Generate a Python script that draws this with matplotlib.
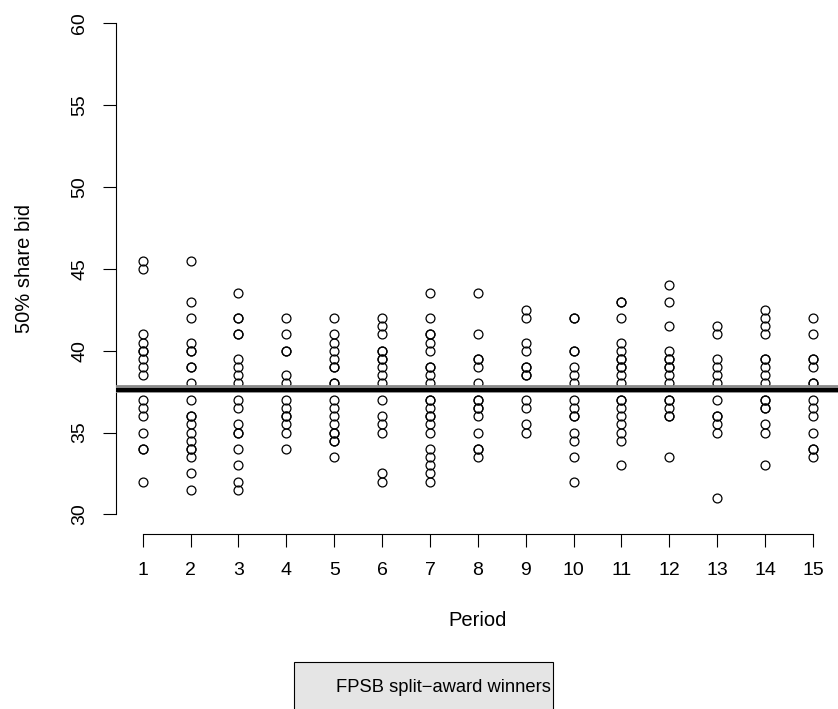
import numpy as np
import matplotlib
matplotlib.use("Agg")
import matplotlib.pyplot as plt
from matplotlib.patches import Rectangle

plt.rcParams['font.family'] = ['Liberation Sans', 'DejaVu Sans']

# winning 50% share bids, one list per period
p1 = [45.5, 45, 41, 40.5, 40, 40, 39.5, 39, 38.5, 37, 36.5, 36, 35, 34, 34, 32]
p2 = [45.5, 43, 42, 40.5, 40, 40, 39, 39, 38, 37, 36, 36, 35.5, 35, 34.5, 34, 34, 33.5, 32.5, 31.5]
p3 = [43.5, 42, 42, 41, 41, 39.5, 39, 38.5, 38, 37, 36.5, 35.5, 35, 35, 34, 33, 32, 31.5]
p4 = [42, 41, 40, 40, 38.5, 38, 37, 36.5, 36, 36, 35.5, 35, 34]
p5 = [42, 41, 40.5, 40, 39.5, 39, 39, 38, 38, 37, 36.5, 36, 35.5, 35, 35, 34.5, 34.5, 33.5]
p6 = [42, 41.5, 41, 40, 40, 39.5, 39.5, 39, 38.5, 38, 37, 36, 35.5, 35, 32.5, 32]
p7 = [43.5, 42, 41, 41, 40.5, 40, 39, 39, 38.5, 38, 37, 37, 36.5, 36, 36, 35.5, 35, 34, 33.5, 33, 32.5, 32]
p8 = [43.5, 41, 39.5, 39.5, 39, 38, 37, 37, 36.5, 36.5, 36, 35, 34, 34, 33.5]
p9 = [42.5, 42, 40.5, 40, 39, 39, 38.5, 38.5, 37, 36.5, 35.5, 35]
p10 = [42, 42, 40, 40, 39, 38.5, 38, 37, 36.5, 36, 36, 35, 34.5, 33.5, 32]
p11 = [43, 43, 42, 40.5, 40, 39.5, 39.5, 39, 39, 38.5, 38, 37, 37, 36.5, 36, 35.5, 35, 34.5, 33]
p12 = [44, 43, 41.5, 40, 39.5, 39.5, 39, 39, 38.5, 38, 37, 37, 36.5, 36, 36, 33.5]
p13 = [41.5, 41, 39.5, 39, 38.5, 38, 37, 36, 36, 35.5, 35, 31]
p14 = [42.5, 42, 41.5, 41, 39.5, 39.5, 39, 38.5, 38, 37, 37, 36.5, 36.5, 35.5, 35, 33]
p15 = [42, 41, 39.5, 39.5, 39, 38, 38, 37, 36.5, 36, 35, 34, 34, 33.5]
bids = [p1, p2, p3, p4, p5, p6, p7, p8, p9, p10, p11, p12, p13, p14, p15]
periods = np.arange(1, 16)

# mean winning bid
mean_bid = 37.6

fig = plt.figure(figsize=(8.38, 7.09), dpi=100)
ax = fig.add_axes([115.9 / 838, 1 - 534 / 709, (839.8 - 115.9) / 838, (534 - 3.7) / 709])

for per, b in zip(periods, bids):
    ax.plot(np.full(len(b), per), b, linestyle='none', marker='o', ms=6.4,
            mfc='none', mec='black', mew=0.9)

ax.axhline(mean_bid + 0.04, color='#8a8a8a', lw=5.6, zorder=3)
ax.axhline(mean_bid - 0.03, color='black', lw=2.9, zorder=4)

ax.set_xlim(0.44, 15.56)
ax.set_ylim(28.8, 61.2)
for s in ['top', 'right']:
    ax.spines[s].set_visible(False)
ax.spines['left'].set_bounds(30, 60)
ax.spines['bottom'].set_bounds(1, 15)
ax.spines['left'].set_linewidth(0.8)
ax.spines['bottom'].set_linewidth(0.8)

ax.set_xticks(periods)
ax.set_yticks(np.arange(30, 61, 5))
ax.tick_params(axis='x', length=9.4, width=0.8, pad=11, labelsize=14)
ax.tick_params(axis='y', length=9.4, width=0.8, pad=10.5, labelsize=14)
for lab in ax.get_yticklabels():
    lab.set_rotation(90)
    lab.set_va('center')

fig.text(478 / 838, 1 - 620 / 709, 'Period', ha='center', va='center', fontsize=14.5)
fig.text(24 / 838, 1 - 268 / 709, '50% share bid', ha='center', va='center',
         rotation=90, fontsize=14.5)

# legend box at the bottom
fig.add_artist(Rectangle((294.3 / 838, -0.01), (553 - 294.3) / 838,
                         (709 - 661.7) / 709 + 0.01, transform=fig.transFigure,
                         facecolor='#e5e5e5', edgecolor='black', lw=0.8))
fig.text(336 / 838, 1 - 687 / 709, 'FPSB split\u2212award winners', ha='left',
         va='center', fontsize=13.2)

fig.savefig('out.png', dpi=100)
